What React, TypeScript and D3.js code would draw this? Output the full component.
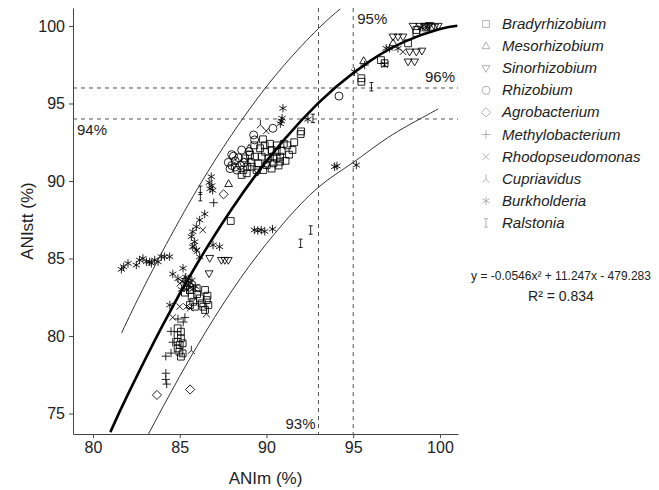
import * as d3 from "d3";
import { useEffect, useRef } from "react";

const genera = ["Bradyrhizobium", "Mesorhizobium", "Sinorhizobium", "Rhizobium", "Agrobacterium",
  "Methylobacterium", "Rhodopseudomonas", "Cupriavidus", "Burkholderia", "Ralstonia"];

// [ANIm, ANIstt]
const bradyrhizobium = [
  [89.63, 92.11], [89.92, 91.89], [90.3, 92.0], [90.59, 91.89], [90.88, 91.94], [90.79, 91.57], [90.79, 91.25],
  [90.4, 91.57], [90.11, 91.46], [89.73, 91.57], [89.34, 91.57], [89.05, 91.68], [88.76, 91.46], [89.53, 91.14],
  [90.01, 91.03], [90.4, 91.14], [89.15, 90.92], [88.67, 90.71], [88.86, 90.5], [89.43, 90.71], [88.57, 90.39],
  [89.82, 90.71], [90.59, 91.46], [89.8, 92.69], [91.97, 93.03], [92.0, 93.2], [87.94, 87.42],
  [91.2, 92.3], [91.5, 92.0], [91.0, 92.4], [90.6, 92.3], [90.2, 92.4], [89.9, 92.3], [89.3, 92.3],
  [89.1, 91.2], [88.9, 90.9], [90.3, 90.8], [90.7, 91.0], [91.3, 91.7], [91.6, 92.5], [91.1, 91.3],
  [85.59, 82.97], [85.98, 83.08], [86.46, 82.97], [85.69, 82.54], [86.17, 82.43], [86.56, 82.32], [85.59, 82.0],
  [85.88, 81.89], [86.36, 81.89], [86.65, 82.0], [85.78, 82.21], [86.27, 82.11], [86.46, 81.68],
  [85.3, 82.8], [86.0, 82.7], [86.6, 82.6],
  [84.88, 80.5], [85.07, 80.28], [84.88, 80.06], [85.07, 79.85], [84.88, 79.63], [85.0, 79.42], [84.88, 79.2],
  [85.17, 78.88], [84.98, 78.99], [85.17, 79.53], [85.07, 78.67],
  [95.47, 96.63], [95.47, 96.4], [96.6, 97.8], [96.81, 97.6], [98.16, 98.88], [98.64, 99.74], [98.64, 99.55],
  [99.2, 99.9], [99.5, 99.95],
];
const mesorhizobium = [[87.82, 89.81], [95.6, 97.75], [89.0, 92.1], [97.3, 98.9]];
const sinorhizobium = [
  [98.45, 100.0], [98.83, 100.0], [99.12, 100.0], [99.4, 100.05], [99.7, 99.95], [99.9, 100.0], [99.3, 100.0],
  [97.29, 99.31], [97.58, 99.31], [97.87, 99.31], [98.25, 98.34], [98.64, 98.34], [98.96, 98.4],
  [98.16, 97.7], [98.54, 97.7], [86.73, 85.03], [87.4, 84.9], [87.6, 84.9], [87.8, 84.9], [86.69, 84.04],
  [90.0, 91.0], [89.5, 90.6],
];
const rhizobium = [
  [88.57, 92.0], [88.2, 91.3], [88.0, 91.0], [88.4, 91.5], [87.9, 90.8], [88.3, 90.7], [88.7, 91.2],
  [89.26, 92.97], [89.32, 92.65], [90.37, 93.4], [94.18, 95.48], [88.1, 91.6], [89.0, 91.9],
  [87.8, 91.2], [88.2, 90.9], [88.5, 91.0], [88.0, 91.7],
];
const agrobacterium = [[87.53, 89.14], [83.69, 76.2], [85.6, 76.55]];
const methylobacterium = [
  [84.2, 77.6], [84.2, 77.2], [84.25, 76.9], [84.2, 78.7], [84.9, 81.1], [85.2, 80.9], [84.5, 80.3],
  [84.6, 79.6], [84.5, 78.9], [86.96, 88.6], [95.66, 97.48], [96.8, 97.6], [85.3, 81.2], [85.3, 83.7],
];
const rhodopseudomonas = [
  [89.99, 93.23], [86.33, 86.84], [85.0, 81.9], [85.4, 81.9], [84.6, 81.2], [85.6, 81.8], [97.87, 98.34],
  [96.81, 97.5], [85.8, 85.8], [86.0, 85.5], [85.0, 83.4], [85.6, 83.1], [88.9, 91.3],
];
const cupriavidus = [[89.65, 93.66], [86.54, 81.46], [85.67, 79.1]];
const burkholderia = [
  [81.64, 84.3], [81.77, 84.47], [82.02, 84.69], [82.5, 84.58], [82.69, 84.9], [82.88, 85.01], [83.08, 84.79],
  [83.27, 84.79], [83.37, 84.69], [83.56, 84.9], [83.75, 84.79], [83.94, 85.12], [84.13, 85.12], [84.42, 85.12],
  [86.82, 90.28], [86.7, 89.9], [86.85, 89.7], [86.75, 89.5], [86.9, 89.4],
  [86.44, 87.87], [86.15, 87.48], [85.96, 87.05], [85.75, 86.73], [85.67, 86.41], [85.86, 86.08], [85.75, 85.76],
  [85.96, 85.55], [86.92, 85.87], [87.3, 85.76], [86.15, 85.1], [85.19, 84.37],
  [85.2, 83.5], [85.5, 83.3], [85.7, 83.6], [85.4, 83.0], [85.9, 83.2], [85.1, 83.0], [84.6, 84.0], [84.9, 83.7],
  [85.35, 83.8], [85.6, 83.45], [85.8, 83.05],
  [84.43, 82.0], [89.3, 86.84], [89.5, 86.8], [89.7, 86.84], [89.9, 86.75], [90.35, 86.9],
  [90.95, 94.69], [90.86, 93.87], [90.9, 94.05], [90.8, 93.7], [92.39, 93.98], [93.93, 90.92], [94.06, 90.97],
  [95.18, 91.03], [95.08, 97.05], [96.9, 98.56], [97.1, 98.56], [97.58, 98.56], [98.9, 99.9], [99.2, 99.95],
];
const ralstonia = [[86.19, 88.99], [86.19, 89.4], [92.55, 86.84], [91.97, 85.98], [92.68, 94.04], [96.05, 96.08]];

const seriesData = [bradyrhizobium, mesorhizobium, sinorhizobium, rhizobium, agrobacterium,
  methylobacterium, rhodopseudomonas, cupriavidus, burkholderia, ralstonia];

// fitted curve and prediction band
const fitLine = [[81, 73.8], [82, 76.2], [84, 80.66], [86, 84.66], [88, 88.2], [90, 91.28], [92, 93.9],
  [94, 96.06], [96, 97.77], [98, 99.01], [100, 99.8], [101, 100.02]];
const upperBand = [[81.65, 80.2], [83, 83.3], [85, 87.5], [87, 91.28], [89, 94.6], [91, 97.45], [93, 99.84], [94.25, 101.1]];
const lowerBand = [[83.16, 73.6], [85, 77.4], [87, 81.18], [89, 84.5], [91, 87.3], [93, 89.6], [95, 91.2],
  [97, 92.8], [99, 94.1], [99.9, 94.65]];

const xTicks = [80, 85, 90, 95, 100];
const yTicks = [75, 80, 85, 90, 95, 100];
const vCuts = [93, 95];
const hCuts = [94, 96];

const FONT = "'Liberation Sans', Arial, sans-serif";

const shapePath = (i) => {
  switch (i) {
    case 0: return "M-3.4,-3.4H3.4V3.4H-3.4Z";
    case 1: return "M0,-4.2L3.9,2.6L-3.9,2.6Z";
    case 2: return "M0,4.2L3.9,-2.6L-3.9,-2.6Z";
    case 3: return "M4,0A4,4 0 1,1 -4,0A4,4 0 1,1 4,0Z";
    case 4: return "M0,-4.6L4.6,0L0,4.6L-4.6,0Z";
    case 5: return "M-4.2,0H4.2M0,-4.2V4.2";
    case 6: return "M-3.2,-3.2L3.2,3.2M-3.2,3.2L3.2,-3.2";
    case 7: return "M0,-4.2V0.6M0,0.6L-3.6,4M0,0.6L3.6,4";
    case 8: return "M0,-4.2V4.2M-3.6,-2.1L3.6,2.1M-3.6,2.1L3.6,-2.1";
    default: return "M0,-4.2V4.2M-2,-4.2H2M-2,4.2H2";
  }
};

const App = () => {
  const xAxisRef = useRef(null);
  const yAxisRef = useRef(null);

  const width = 659;
  const height = 490;
  const left = 73, right = 458, top = 8, bottom = 434;

  const x = d3.scaleLinear().domain([78.85, 101.04]).range([left, right]);
  const y = d3.scaleLinear().domain([73.68, 101.16]).range([bottom, top]);

  const line = d3.line().x(d => x(d[0])).y(d => y(d[1])).curve(d3.curveNatural);

  useEffect(() => {
    const gx = d3.select(xAxisRef.current);
    gx.selectChildren().remove();
    gx.call(d3.axisBottom(x).tickValues(xTicks).tickSize(4).tickPadding(4).tickSizeOuter(0));
    gx.selectAll("text").attr("font-size", 16).attr("font-family", FONT).attr("fill", "#222");
    gx.selectAll("line, path").attr("stroke", "#444");

    const gy = d3.select(yAxisRef.current);
    gy.selectChildren().remove();
    gy.call(d3.axisLeft(y).tickValues(yTicks).tickSize(4).tickPadding(4).tickSizeOuter(0));
    gy.selectAll("text").attr("font-size", 16).attr("font-family", FONT).attr("fill", "#222");
    gy.selectAll("line, path").attr("stroke", "#444");
  });

  return (
    <svg width={width} height={height} style={{ position: "absolute", left: 0, top: 0, background: "#fff" }}
      fontFamily={FONT}>
      <defs>
        <clipPath id="plot-clip">
          <rect x={left} y={top} width={right - left} height={bottom - top} />
        </clipPath>
      </defs>

      {/* threshold lines */}
      {vCuts.map(v => (
        <line key={"v" + v} x1={x(v)} x2={x(v)} y1={top} y2={bottom} stroke="#555" strokeWidth={1}
          strokeDasharray="4,4" />
      ))}
      {hCuts.map(v => (
        <line key={"h" + v} x1={left} x2={right} y1={y(v)} y2={y(v)} stroke="#555" strokeWidth={1}
          strokeDasharray="4,4" />
      ))}

      {/* points */}
      {seriesData.map((pts, i) => (
        <g key={genera[i]}>
          {pts.map((d, j) => (
            <path key={j} d={shapePath(i)} transform={`translate(${x(d[0])},${y(d[1])})`}
              fill="none" stroke="#000" strokeOpacity={0.85} strokeWidth={1} />
          ))}
        </g>
      ))}

      <g clipPath="url(#plot-clip)">
        <path d={line(upperBand)} fill="none" stroke="#333" strokeWidth={1} />
        <path d={line(lowerBand)} fill="none" stroke="#333" strokeWidth={1} />
        <path d={line(fitLine)} fill="none" stroke="#000" strokeWidth={2.6} />
      </g>

      <g ref={xAxisRef} transform={`translate(0,${bottom})`} />
      <g ref={yAxisRef} transform={`translate(${left},0)`} />

      <text x={x(95) + 4} y={24} fontSize={15} fill="#222">95%</text>
      <text x={455} y={82} fontSize={15} fill="#222" textAnchor="end">96%</text>
      <text x={77} y={135} fontSize={15} fill="#222">94%</text>
      <text x={x(93) - 3} y={429} fontSize={15} fill="#222" textAnchor="end">93%</text>

      <text x={(left + right) / 2} y={484} fontSize={17} textAnchor="middle" fill="#222">ANIm (%)</text>
      <text transform={`translate(33,${(top + bottom) / 2}) rotate(-90)`} fontSize={17} textAnchor="middle"
        fill="#222">ANIstt (%)</text>

      <text x={561} y={280} fontSize={12} textAnchor="middle" fill="#222">y = -0.0546x² + 11.247x - 479.283</text>
      <text x={561} y={301} fontSize={14} textAnchor="middle" fill="#222">R² = 0.834</text>

      {/* legend */}
      {genera.map((g, i) => (
        <g key={g} transform={`translate(486,${24 + i * 22.1})`}>
          <path d={shapePath(i)} fill="none" stroke="#aaa" strokeWidth={0.9} />
          <text x={16} y={5} fontSize={15} fontStyle="italic" fill="#222">{g}</text>
        </g>
      ))}
    </svg>
  );
};

export default App;
